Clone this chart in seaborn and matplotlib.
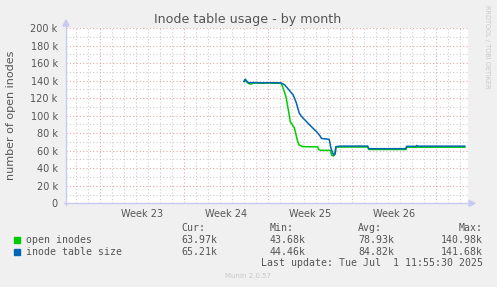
import matplotlib
matplotlib.use("Agg")
import matplotlib.pyplot as plt
import seaborn as sns
import numpy as np
import pandas as pd

# ---- data (days since Monday of Week 23; values in thousands) ----
open_days = [12.00, 12.10, 12.25, 12.40, 12.60, 12.80, 13.50, 14.00, 14.50, 15.00,
             15.10, 15.22, 15.50, 15.72, 15.86, 16.20, 16.47, 16.60, 16.90, 18.15,
             18.20, 18.40, 19.20, 19.30, 19.45, 19.55, 19.65, 20.50, 22.30, 22.40,
             25.50, 25.55, 26.40, 28.00, 30.40]
open_vals = [139.0, 140.5, 138.0, 136.5, 136.0, 137.3, 137.0, 137.3, 137.0, 137.0,
             136.5, 133.0, 121.6, 104.5, 93.0, 86.0, 70.5, 66.5, 64.6, 64.4,
             61.5, 60.5, 60.3, 55.0, 54.0, 56.0, 64.2, 64.2, 64.2, 61.4,
             61.4, 64.0, 64.0, 64.0, 64.0]

size_days = [12.00, 12.10, 12.25, 12.40, 13.00, 13.50, 14.00, 14.50, 15.00, 15.10,
             15.40, 15.83, 16.10, 16.35, 16.60, 16.80, 17.08, 17.50, 18.05, 18.33,
             18.45, 19.10, 19.25, 19.40, 19.50, 19.60, 19.67, 20.00, 22.30, 22.40,
             25.50, 25.55, 26.35, 26.40, 26.50, 30.40]
size_vals = [139.0, 141.7, 139.0, 137.5, 137.8, 137.3, 137.6, 137.5, 137.4, 137.3,
             135.0, 128.0, 123.6, 115.0, 103.0, 99.0, 95.0, 89.0, 81.7, 77.0,
             74.0, 73.0, 62.7, 57.0, 55.0, 56.5, 64.6, 65.2, 65.3, 62.3,
             62.3, 65.0, 65.0, 66.0, 65.2, 65.2]

week_labels = ["Week 23", "Week 24", "Week 25", "Week 26"]
series_names = ["open inodes", "inode table size"]
cur_vals = ["63.97k", "65.21k"]
min_vals = ["43.68k", "44.46k"]
avg_vals = ["78.93k", "84.82k"]
max_vals = ["140.98k", "141.68k"]
colors = ["#00CC00", "#0066B3"]

W, H = 497, 287
fig = plt.figure(figsize=(W / 100, H / 100), dpi=100)
fig.patch.set_facecolor("#F0F0F0")

x0, x1 = 66, 468
y0, y1 = 203.3, 28
ax = fig.add_axes([x0 / W, 1 - y0 / H, (x1 - x0) / W, (y0 - y1) / H])
ax.set_facecolor("white")

px_per_day = 12.0
xmin = (x0 - 100) / px_per_day
xmax = (x1 - 100) / px_per_day
ax.set_xlim(xmin, xmax)
ax.set_ylim(0, 200)

# grid
for d in np.arange(np.ceil(xmin), xmax + 0.01, 1):
    if int(round(d)) % 7 == 0:
        continue
    ax.axvline(d, color="#CFCFCF", lw=0.8, ls=(0, (1, 2)), zorder=1)
for v in range(10, 201, 20):
    ax.axhline(v, color="#CFCFCF", lw=0.8, ls=(0, (1, 2)), zorder=1)
for d in range(0, int(xmax) + 1, 7):
    ax.axvline(d, color="#E8A8A8", lw=0.8, ls=(0, (1, 2)), zorder=1.5)
for v in range(20, 201, 20):
    ax.axhline(v, color="#E8A8A8", lw=0.8, ls=(0, (1, 2)), zorder=1.5)

df_open = pd.DataFrame({"day": open_days, "val": open_vals})
df_size = pd.DataFrame({"day": size_days, "val": size_vals})
sns.lineplot(data=df_open, x="day", y="val", color=colors[0], lw=1.1,
             estimator=None, sort=False, ax=ax, zorder=3)
sns.lineplot(data=df_size, x="day", y="val", color=colors[1], lw=1.1,
             estimator=None, sort=False, ax=ax, zorder=4)

for s in ax.spines.values():
    s.set_visible(False)

ax.set_xticks([3.5 + 7 * i for i in range(len(week_labels))])
ax.set_xticklabels(week_labels)
ax.set_yticks(range(0, 201, 20))
ax.set_yticklabels(["0"] + [f"{v} k" for v in range(20, 201, 20)])
ax.tick_params(axis="both", length=0, labelsize=7, labelcolor="#555555")
ax.tick_params(axis="y", pad=6)
ax.tick_params(axis="x", pad=4)
ax.set_xlabel("")
ax.set_ylabel("")

# axes lines with arrows (figure pixel coords)
axis_col = "#C8C8F0"
def fx(px):
    return px / W
def fy(py):
    return 1 - py / H
fig.add_artist(matplotlib.lines.Line2D([fx(x0), fx(x0)], [fy(y0 + 2), fy(25)], color=axis_col, lw=1))
fig.add_artist(matplotlib.lines.Line2D([fx(x0 - 2), fx(470)], [fy(y0), fy(y0)], color=axis_col, lw=1))
fig.add_artist(matplotlib.patches.Polygon([[fx(x0 - 3), fy(26)], [fx(x0 + 3), fy(26)], [fx(x0), fy(20)]],
                                          closed=True, color=axis_col, transform=fig.transFigure))
fig.add_artist(matplotlib.patches.Polygon([[fx(469), fy(y0 - 3)], [fx(469), fy(y0 + 3)], [fx(475), fy(y0)]],
                                          closed=True, color=axis_col, transform=fig.transFigure))

# titles
fig.text(fx(248), fy(19), "Inode table usage - by month", ha="center", va="center",
         fontsize=9.1, color="#555555")
fig.text(fx(11), fy(115), "number of open inodes", ha="center", va="center",
         rotation=90, fontsize=8, color="#555555")
fig.text(fx(487), fy(5), "RRDTOOL / TOBI OETIKER", ha="center", va="top",
         rotation=270, fontsize=4.7, color="#C8C8C8")

# legend
mono = "DejaVu Sans Mono"
fs = 7.1
tc = "#555555"
fig.text(fx(181), fy(227.7), "Cur:", family=mono, fontsize=fs, color=tc, va="center", ha="left")
fig.text(fx(270), fy(227.7), "Min:", family=mono, fontsize=fs, color=tc, va="center", ha="left")
fig.text(fx(358), fy(227.7), "Avg:", family=mono, fontsize=fs, color=tc, va="center", ha="left")
fig.text(fx(482.7), fy(227.7), "Max:", family=mono, fontsize=fs, color=tc, va="center", ha="right")
rows_y = [240, 251.7]
for i, name in enumerate(series_names):
    yy = rows_y[i]
    fig.add_artist(matplotlib.patches.Rectangle((fx(14), fy(yy + 3)), 6 / W, 6 / H,
                                                color=colors[i], transform=fig.transFigure))
    fig.text(fx(26), fy(yy), name, family=mono, fontsize=fs, color=tc, va="center", ha="left")
    fig.text(fx(181), fy(yy), cur_vals[i], family=mono, fontsize=fs, color=tc, va="center", ha="left")
    fig.text(fx(270), fy(yy), min_vals[i], family=mono, fontsize=fs, color=tc, va="center", ha="left")
    fig.text(fx(358), fy(yy), avg_vals[i], family=mono, fontsize=fs, color=tc, va="center", ha="left")
    fig.text(fx(482.7), fy(yy), max_vals[i], family=mono, fontsize=fs, color=tc, va="center", ha="right")
fig.text(fx(482.7), fy(263.3), "Last update: Tue Jul  1 11:55:30 2025", family=mono, fontsize=fs,
         color=tc, va="center", ha="right")
fig.text(fx(248), fy(276), "Munin 2.0.57", fontsize=5, color="#C8C8C8", ha="center", va="center")

fig.savefig("out.png", dpi=100, facecolor=fig.get_facecolor())
